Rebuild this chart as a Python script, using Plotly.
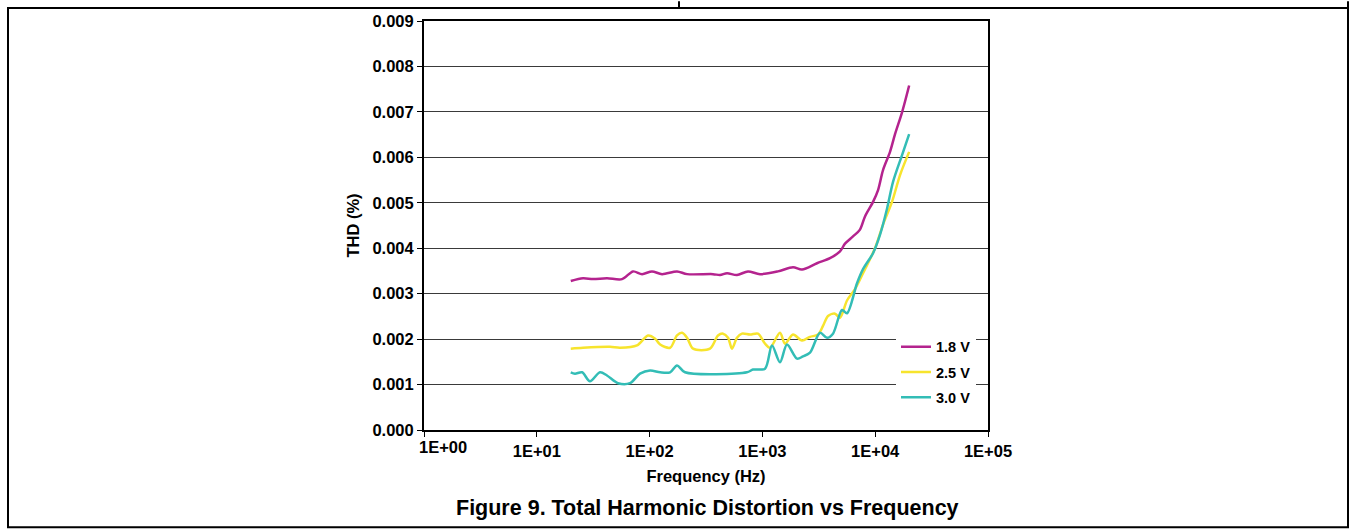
import plotly.graph_objects as go

# ---- data ----
freq_18 = [20, 25.7, 31.5, 41.9, 56.9, 71.3, 85.7, 105, 129, 175, 215, 365, 421, 486, 595, 745,
           952, 1375, 1868, 2244, 3049, 3974, 4875, 5399, 6355, 7331, 8120, 9570, 10600,
           11730, 13530, 14990, 17300, 20000]
thd_18 = [0.00328, 0.00334, 0.00332, 0.00334, 0.00332, 0.00349, 0.00343, 0.00349, 0.00343,
          0.00349, 0.00343, 0.00343, 0.00341, 0.00345, 0.00341, 0.00349, 0.00343, 0.00349,
          0.00358, 0.00353, 0.00367, 0.00378, 0.00393, 0.00410, 0.00426, 0.00441, 0.00470,
          0.00502, 0.00528, 0.00572, 0.00612, 0.00651, 0.00699, 0.00758]

freq_25 = [20, 25.7, 44.6, 54.7, 77.3, 96.8, 112, 124, 152, 175, 194, 215, 243, 343, 404, 448,
           496, 538, 595, 659, 777, 914, 1055, 1168, 1432, 1586, 1868, 2244, 2642, 3112, 3445,
           3816, 4402, 4875, 5625, 6620, 7800, 9960, 11730, 14090, 16600, 20000]
thd_25 = [0.00179, 0.00181, 0.00183, 0.00181, 0.00186, 0.00208, 0.00201, 0.00188, 0.00181,
          0.00208, 0.00214, 0.00203, 0.00179, 0.00179, 0.00208, 0.00212, 0.00203, 0.00179,
          0.00203, 0.00212, 0.00210, 0.00212, 0.00190, 0.00181, 0.00214, 0.00190, 0.00210,
          0.00197, 0.00205, 0.00210, 0.00229, 0.00251, 0.00256, 0.00247, 0.00285, 0.00310,
          0.00345, 0.00400, 0.00452, 0.00502, 0.00561, 0.00612]

freq_30 = [20, 21.8, 25.2, 29.6, 36.3, 41.9, 52.5, 67, 82.2, 101, 124, 152, 175, 206, 730, 826,
           1055, 1216, 1432, 1652, 2027, 2290, 2642, 3243, 3739, 4226, 5078, 5625, 6900, 7800,
           9570, 11040, 12730, 14390, 17300, 20000]
thd_30 = [0.00127, 0.00124, 0.00127, 0.00107, 0.00127, 0.00120, 0.00103, 0.00103, 0.00124,
          0.00131, 0.00127, 0.00127, 0.00142, 0.00127, 0.00127, 0.00133, 0.00135, 0.00186,
          0.00149, 0.00188, 0.00157, 0.00162, 0.00170, 0.00214, 0.00203, 0.00212, 0.00264,
          0.00257, 0.00323, 0.00354, 0.00389, 0.00430, 0.00487, 0.00546, 0.00605, 0.00651]

series_names = ["1.8 V", "2.5 V", "3.0 V"]
series_colors = ["#B4238E", "#F7E42D", "#33BDB6"]

x_tickvals = [1, 10, 100, 1000, 10000, 100000]
x_ticktext = ["", "1E+01", "1E+02", "1E+03", "1E+04", "1E+05"]
first_xtick_label = "1E+00"
y_tickvals = [0.000, 0.001, 0.002, 0.003, 0.004, 0.005, 0.006, 0.007, 0.008, 0.009]

caption = "Figure 9. Total Harmonic Distortion vs Frequency"

FONT = "Liberation Sans, Arial, sans-serif"
AX = 16.5

fig = go.Figure()
for fx, fy, name, col in zip([freq_18, freq_25, freq_30], [thd_18, thd_25, thd_30],
                             series_names, series_colors):
    fig.add_trace(go.Scatter(x=fx, y=fy, mode="lines", name=name, legendgroup=name,
                             line=dict(color=col, width=2.5, shape="spline", smoothing=0.85)))

# pixel -> paper helpers for the plot area (l=424, r=988, t=18, b=430)
L, R, T, B = 424, 988, 18, 430
def px(x):
    return (x - L) / (R - L)
def py(y):
    return (B - y) / (B - T)

frame = dict(color="black", width=2)
shapes = [
    dict(type="rect", xref="paper", yref="paper", x0=px(8), x1=px(1348), y0=py(528), y1=py(5),
         line=frame, layer="below"),
    dict(type="line", xref="paper", yref="paper", x0=px(679), x1=px(679), y0=py(5), y1=py(-2),
         line=frame),
    dict(type="line", xref="paper", yref="paper", x0=px(1348), x1=px(1348), y0=py(5), y1=py(-2),
         line=frame),
]

fig.update_layout(
    width=1353, height=529,
    margin=dict(l=L, r=1353 - R, t=T, b=529 - B, pad=0),
    paper_bgcolor="white", plot_bgcolor="white",
    font=dict(family=FONT, size=AX, color="black", weight="bold"),
    shapes=shapes,
    showlegend=True,
    legend=dict(x=px(896), y=py(330), xanchor="left", yanchor="top",
                bgcolor="white", borderwidth=0, tracegroupgap=3.5,
                font=dict(family=FONT, size=14.5, color="black", weight="bold")),
    xaxis=dict(type="log", range=[0, 5], tickvals=x_tickvals, ticktext=x_ticktext,
               showgrid=False, ticks="outside", ticklen=5, tickwidth=1, tickcolor="black",
               showline=True, linecolor="black", linewidth=2, mirror=True,
               tickfont=dict(family=FONT, size=AX, color="black", weight="bold"),
               title=dict(text="Frequency (Hz)", standoff=12,
                          font=dict(family=FONT, size=AX, color="black", weight="bold"))),
    yaxis=dict(range=[0, 0.009], tickvals=y_tickvals, tickformat=".3f",
               showgrid=True, gridcolor="#3a3a3a", gridwidth=1,
               ticks="outside", ticklen=5, tickwidth=1, tickcolor="black",
               showline=True, linecolor="black", linewidth=2, mirror=True, zeroline=False,
               tickfont=dict(family=FONT, size=AX, color="black", weight="bold"),
               title=dict(text="THD (%)", standoff=9,
                          font=dict(family=FONT, size=AX, color="black", weight="bold"))),
    annotations=[
        dict(text=first_xtick_label, x=0, y=0, xref="x", yref="paper", xanchor="center",
             yanchor="top", xshift=18.5, yshift=-6, showarrow=False,
             font=dict(family=FONT, size=AX, color="black", weight="bold")),
        dict(text=caption, x=px(707), y=py(509), xref="paper", yref="paper",
             xanchor="center", yanchor="middle", showarrow=False,
             font=dict(family=FONT, size=21.5, color="black", weight="bold")),
    ],
)

fig.write_html("out.html", config={"displayModeBar": False},
               post_script="document.body.style.margin='0';")
